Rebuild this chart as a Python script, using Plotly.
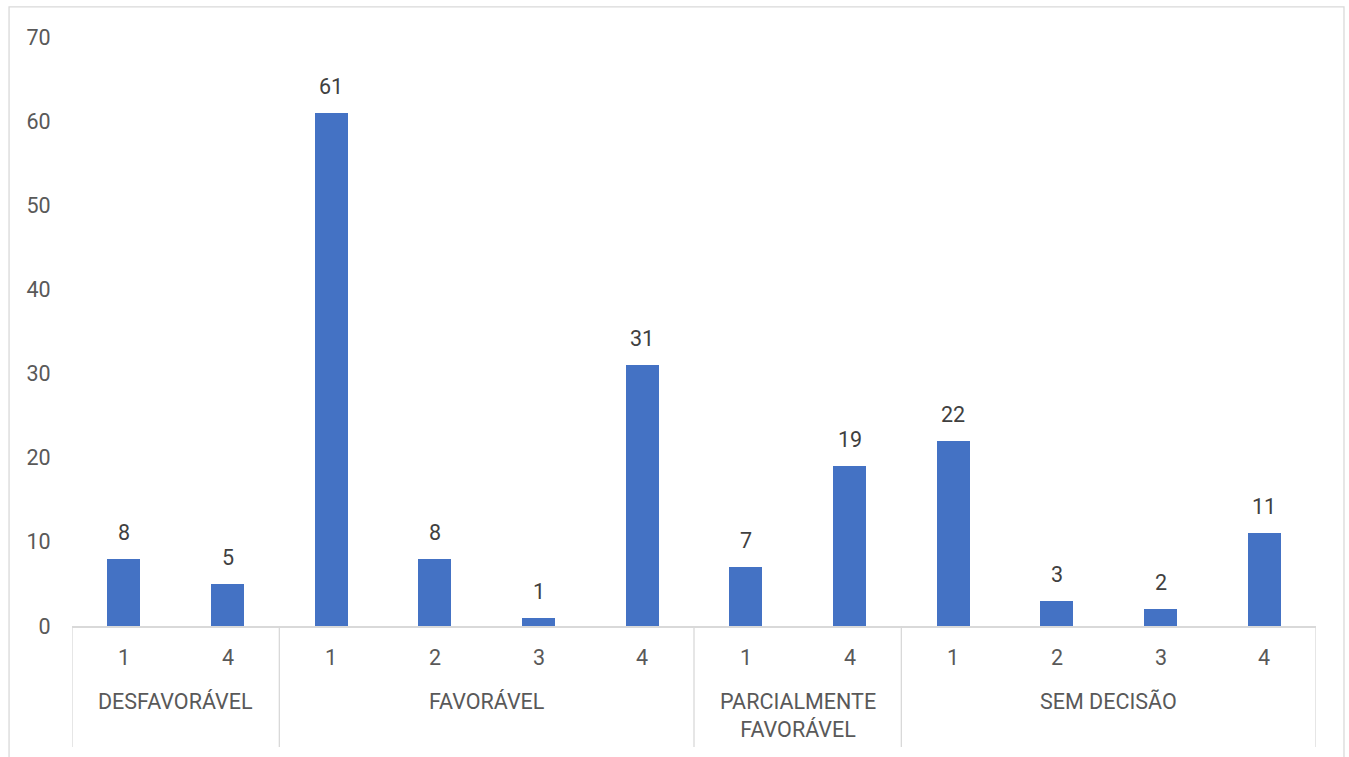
import plotly.graph_objects as go

# Decision outcome groups and the sub-categories within each
group_names = ["DESFAVORÁVEL", "FAVORÁVEL", "PARCIALMENTE<br>FAVORÁVEL", "SEM DECISÃO"]
group_sizes = [2, 4, 2, 4]
sub_labels = ["1", "4", "1", "2", "3", "4", "1", "4", "1", "2", "3", "4"]
values = [8, 5, 61, 8, 1, 31, 7, 19, 22, 3, 2, 11]
y_ticks = [0, 10, 20, 30, 40, 50, 60, 70]

BAR = "#4472C4"
TEXT = "#595959"
LINE = "#D9D9D9"
FONT = "Roboto, Liberation Sans, sans-serif"
FS = 21.5

xs = list(range(len(values)))

fig = go.Figure(go.Bar(
    x=xs, y=values, width=0.32,
    marker=dict(color=BAR, line=dict(width=0)),
    hoverinfo="skip",
))

annotations = []
# value labels above bars
for x, v in zip(xs, values):
    annotations.append(dict(x=x, y=v, xref="x", yref="y", text=str(v),
                            showarrow=False, yanchor="bottom", yshift=12,
                            font=dict(family=FONT, size=FS, color="#404040")))
# inner category labels
for x, s in zip(xs, sub_labels):
    annotations.append(dict(x=x, y=-0.053, xref="x", yref="paper", text=s,
                            showarrow=False, yanchor="middle",
                            font=dict(family=FONT, size=FS, color=TEXT)))

# group labels and dividers
shapes = []
start = 0
bounds = [-0.5]
for name, n in zip(group_names, group_sizes):
    center = start + (n - 1) / 2
    annotations.append(dict(x=center, y=-0.104, xref="x", yref="paper", text=name,
                            showarrow=False, yanchor="top",
                            font=dict(family=FONT, size=FS, color=TEXT)))
    start += n
    bounds.append(start - 0.5)
for b in bounds:
    shapes.append(dict(type="line", xref="x", yref="paper", x0=b, x1=b,
                       y0=0, y1=-0.2054, line=dict(color=LINE, width=1.3)))

# outer chart frame
shapes.append(dict(type="rect", xref="paper", yref="paper",
                   x0=-0.0506, x1=1.0225, y0=-0.26, y1=1.051,
                   line=dict(color=LINE, width=1.3), fillcolor="rgba(0,0,0,0)",
                   layer="below"))

fig.update_layout(
    width=1349, height=757,
    margin=dict(l=72, r=33, t=37, b=131),
    paper_bgcolor="white", plot_bgcolor="white",
    showlegend=False,
    bargap=0,
    xaxis=dict(range=[-0.5, len(values) - 0.5], showticklabels=False,
               showgrid=False, zeroline=False, showline=True,
               linecolor=LINE, linewidth=1.5, ticks=""),
    yaxis=dict(range=[0, 70], tickvals=y_ticks, showgrid=False, zeroline=False,
               showline=False, ticks="outside", ticklen=16,
               tickcolor="rgba(0,0,0,0)",
               tickfont=dict(family=FONT, size=FS, color=TEXT)),
    annotations=annotations,
    shapes=shapes,
)

fig.write_html("out.html")
